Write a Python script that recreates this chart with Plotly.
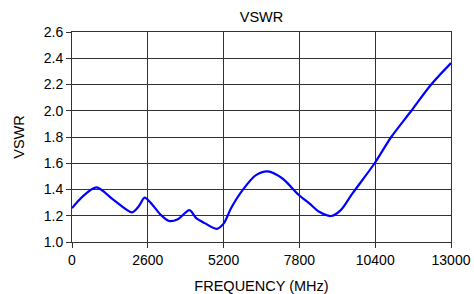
import plotly.graph_objects as go

freq = [0, 370, 840, 1415, 2060, 2290, 2490, 2700, 3040, 3330, 3630, 4030, 4260, 4550, 4960, 5200, 5460, 5850, 6310, 6710, 7220, 7770, 8140, 8480, 8880, 9220, 9620, 10380, 10950, 11640, 12320, 13000]
vswr = [1.258, 1.348, 1.416, 1.323, 1.226, 1.272, 1.338, 1.298, 1.208, 1.16, 1.174, 1.243, 1.182, 1.144, 1.10, 1.14, 1.259, 1.395, 1.509, 1.538, 1.484, 1.36, 1.294, 1.23, 1.198, 1.243, 1.37, 1.60, 1.80, 2.00, 2.20, 2.363]
x_ticks = [0, 2600, 5200, 7800, 10400, 13000]
y_ticks = [1.0, 1.2, 1.4, 1.6, 1.8, 2.0, 2.2, 2.4, 2.6]

fig = go.Figure(go.Scatter(x=freq, y=vswr, mode="lines",
                           line=dict(color="#0000FF", width=2.2, shape="spline", smoothing=0.8)))

fam = "Liberation Sans, Arial, sans-serif"
fig.update_layout(
    width=474, height=294,
    margin=dict(l=72, r=23, t=32, b=52),
    paper_bgcolor="white", plot_bgcolor="white",
    showlegend=False,
    font=dict(family=fam, size=14, color="#000"),
    title=dict(text="VSWR", x=(72 + 451) / 2 / 474, xanchor="center", y=1 - 17 / 294, yanchor="middle",
               font=dict(family=fam, size=14.5)),
    xaxis=dict(range=[0, 13000], tickvals=x_ticks, ticktext=[str(v) for v in x_ticks],
               showgrid=True, gridcolor="#333", gridwidth=1, automargin=False,
               showline=True, linecolor="#333", linewidth=1, mirror=True,
               ticks="outside", ticklen=5, tickcolor="#333", zeroline=False,
               title=dict(text="FREQUENCY (MHz)", standoff=16, font=dict(size=14.5))),
    yaxis=dict(range=[1.0, 2.6], tickvals=y_ticks, ticktext=["%.1f" % v for v in y_ticks],
               showgrid=True, gridcolor="#333", gridwidth=1, automargin=False,
               showline=True, linecolor="#333", linewidth=1, mirror=True,
               ticks="outside", ticklen=5, tickcolor="#333", zeroline=False,
               title=dict(text="VSWR", standoff=15, font=dict(size=14.5))),
)
fig.write_html("out.html", config={"displayModeBar": False},
               post_script="document.body.style.margin='0';document.body.style.overflow='hidden';")
